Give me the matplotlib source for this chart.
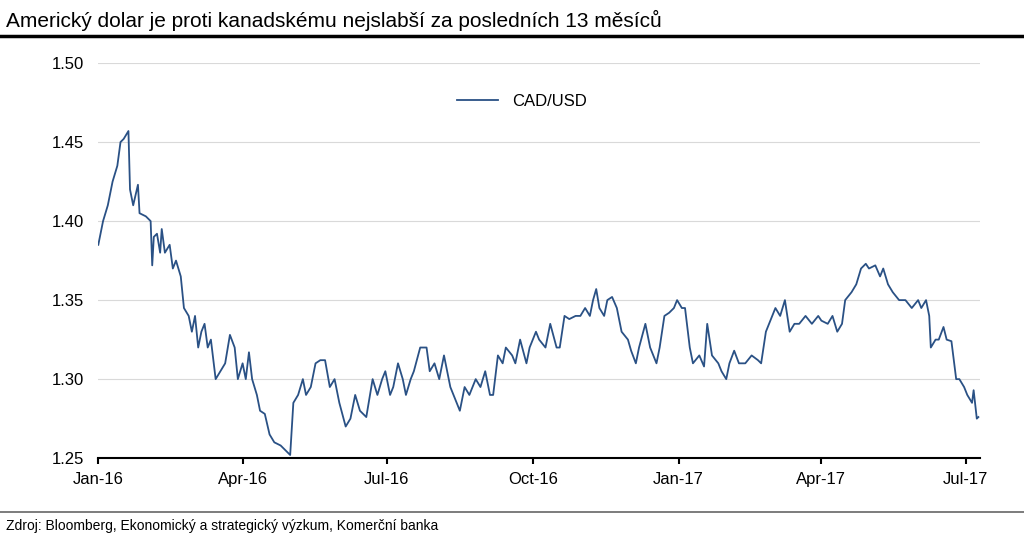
import numpy as np
import pandas as pd
import matplotlib
matplotlib.use("Agg")
import matplotlib.pyplot as plt

plt.rcParams['font.family'] = ['Liberation Sans', 'DejaVu Sans']

# days since 2016-01-01 and CAD/USD values
days = [0, 3, 6, 9, 12, 14, 16, 19, 20, 22, 25, 26, 30, 33, 34, 35, 37, 39, 40, 42, 45, 47, 49, 52, 54, 57, 59, 61, 63, 65,
        67, 69, 71, 74, 77, 80, 83, 86, 88, 91, 93, 95, 97, 100, 102, 105, 108, 111, 115, 118, 121, 123, 126, 129, 131, 134, 137, 140, 143, 146,
        149, 152, 156, 159, 162, 165, 169, 173, 176, 179, 181, 184, 186, 189, 192, 194, 197, 199, 203, 207, 209, 212, 215, 218, 222, 226, 228, 231, 234, 238,
        241, 244, 247, 249, 252, 255, 257, 261, 263, 266, 270, 272, 276, 278, 282, 285, 289, 291, 294, 297, 301, 304, 307, 310, 312, 314, 316, 319, 321, 324,
        327, 330, 334, 336, 339, 341, 345, 348, 352, 354, 357, 360, 363, 365, 368, 370, 373, 375, 379, 382, 384, 387, 391, 393, 396, 398, 401, 404, 408, 412,
        416, 418, 421, 423, 427, 430, 433, 436, 439, 442, 446, 450, 454, 456, 460, 463, 466, 469, 471, 475, 478, 481, 484, 486, 490, 493, 495, 498, 501, 505,
        509, 513, 517, 519, 522, 524, 525, 528, 530, 533, 535, 538, 541, 543, 546, 548, 551, 552, 554, 555]
cad_usd = [1.385, 1.40, 1.41, 1.425, 1.435, 1.45, 1.452, 1.457, 1.42, 1.41, 1.423, 1.405, 1.403, 1.40, 1.372, 1.39, 1.392, 1.38, 1.395, 1.38,
           1.385, 1.37, 1.375, 1.365, 1.345, 1.34, 1.33, 1.34, 1.32, 1.33, 1.335, 1.32, 1.325, 1.30, 1.305, 1.31, 1.328, 1.32, 1.30, 1.31,
           1.30, 1.317, 1.30, 1.29, 1.28, 1.278, 1.265, 1.26, 1.258, 1.255, 1.252, 1.285, 1.29, 1.30, 1.29, 1.295, 1.31, 1.312, 1.312, 1.295,
           1.30, 1.285, 1.27, 1.275, 1.29, 1.28, 1.276, 1.30, 1.29, 1.30, 1.305, 1.29, 1.295, 1.31, 1.30, 1.29, 1.30, 1.305, 1.32, 1.32,
           1.305, 1.31, 1.30, 1.315, 1.295, 1.285, 1.28, 1.295, 1.29, 1.30, 1.295, 1.305, 1.29, 1.29, 1.315, 1.31, 1.32, 1.315, 1.31, 1.325,
           1.31, 1.32, 1.33, 1.325, 1.32, 1.335, 1.32, 1.32, 1.34, 1.338, 1.34, 1.34, 1.345, 1.34, 1.35, 1.357, 1.345, 1.34, 1.35, 1.352,
           1.345, 1.33, 1.325, 1.318, 1.31, 1.32, 1.335, 1.32, 1.31, 1.32, 1.34, 1.342, 1.345, 1.35, 1.345, 1.345, 1.32, 1.31, 1.315, 1.308,
           1.335, 1.315, 1.31, 1.305, 1.30, 1.31, 1.318, 1.31, 1.31, 1.315, 1.312, 1.31, 1.33, 1.335, 1.345, 1.34, 1.35, 1.33, 1.335, 1.335,
           1.34, 1.335, 1.34, 1.337, 1.335, 1.34, 1.33, 1.335, 1.35, 1.355, 1.36, 1.37, 1.373, 1.37, 1.372, 1.365, 1.37, 1.36, 1.355, 1.35,
           1.35, 1.345, 1.35, 1.345, 1.35, 1.34, 1.32, 1.325, 1.325, 1.333, 1.325, 1.324, 1.30, 1.30, 1.295, 1.29, 1.285, 1.293, 1.275, 1.276]

dates = pd.Timestamp("2016-01-01") + pd.to_timedelta(days, unit="D")
tick_dates = pd.to_datetime(["2016-01-01", "2016-04-01", "2016-07-01", "2016-10-01",
                             "2017-01-01", "2017-04-01", "2017-07-01"])
tick_labels = ["Jan-16", "Apr-16", "Jul-16", "Oct-16", "Jan-17", "Apr-17", "Jul-17"]
yticks = [1.25, 1.30, 1.35, 1.40, 1.45, 1.50]

fig = plt.figure(figsize=(10.24, 5.39), dpi=100)
ax = fig.add_axes([0.096, 0.150, 0.861, 0.733])
ax.plot(dates, cad_usd, color="#2a5185", lw=1.3, label="CAD/USD")
ax.set_ylim(1.25, 1.50)
ax.set_yticks(yticks)
ax.set_yticklabels([f"{v:.2f}" for v in yticks])
ax.set_xlim(pd.Timestamp("2016-01-01"), pd.Timestamp("2017-07-10"))
ax.set_xticks(tick_dates)
ax.set_xticklabels(tick_labels)
ax.grid(axis="y", color="#d9d9d9", lw=0.8)
ax.set_axisbelow(True)
for s in ["top", "right", "left"]:
    ax.spines[s].set_visible(False)
ax.spines["bottom"].set_color("black")
ax.spines["bottom"].set_linewidth(1.5)
ax.tick_params(axis="y", length=0, labelsize=12, pad=10)
ax.tick_params(axis="x", length=4, width=1.5, direction="out", color="black", labelsize=12, pad=6)
ax.legend(loc="upper center", bbox_to_anchor=(0.48, 0.96), frameon=False, fontsize=12,
          handlelength=2.5)

fig.text(0.006, 0.962, "Americký dolar je proti kanadskému nejslabší za posledních 13 měsíců",
         fontsize=15, ha="left", va="center")
fig.add_artist(plt.Line2D([0, 1], [0.933, 0.933], color="black", lw=2.5))
fig.add_artist(plt.Line2D([0, 1], [0.050, 0.050], color="#666666", lw=1.2))
fig.text(0.006, 0.024, "Zdroj: Bloomberg, Ekonomický a strategický výzkum, Komerční banka",
         fontsize=10, ha="left", va="center")

fig.savefig("out.png", dpi=100)
